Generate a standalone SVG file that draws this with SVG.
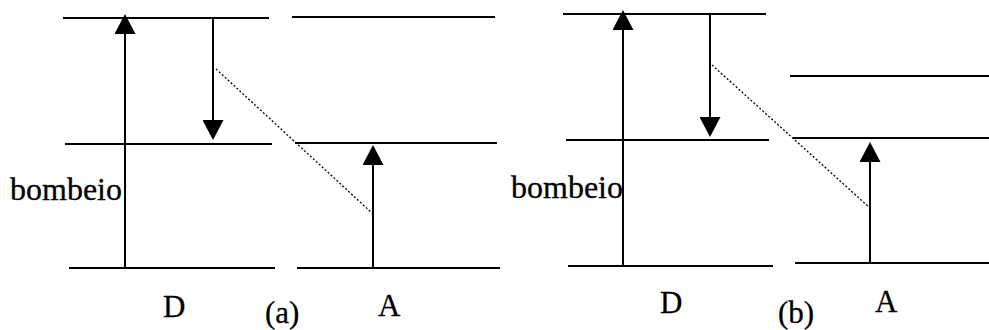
<svg xmlns="http://www.w3.org/2000/svg" width="989" height="330" viewBox="0 0 989 330">
<style>
.lvl{stroke:#000;stroke-width:2;fill:none}
.arr{stroke:#000;stroke-width:2;fill:none;marker-end:url(#ah)}
.dot{stroke:#000;stroke-width:1.3;fill:none;stroke-dasharray:2 2}
.t{font-family:"Liberation Serif","Times New Roman",serif;font-size:31px;fill:#000;stroke:#000;stroke-width:0.3}
.lb{font-size:32px}
</style>
<defs>
<marker id="ah" viewBox="0 0 20 21" refX="16" refY="10.5" markerWidth="20" markerHeight="21" markerUnits="userSpaceOnUse" orient="auto">
<path d="M0,0 L20,10.5 L0,21 z" fill="#000"/>
</marker>
</defs>
<rect width="989" height="330" fill="#fff"/>
<g id="panel-a">
<g id="a-donor-levels">
<line class="lvl" x1="63" y1="18" x2="269" y2="18"/>
<line class="lvl" x1="65" y1="144" x2="272" y2="144"/>
<line class="lvl" x1="69" y1="268" x2="275" y2="268"/>
</g>
<g id="a-acceptor-levels">
<line class="lvl" x1="292" y1="17" x2="495" y2="17"/>
<line class="lvl" x1="295" y1="143" x2="497" y2="143"/>
<line class="lvl" x1="297" y1="268" x2="500" y2="268"/>
</g>
<g id="a-labels">
<text class="t lb" x="10" y="200">bombeio</text>
<text class="t" x="163" y="317">D</text>
<text class="t" x="265" y="323">(a)</text>
<text class="t" x="378" y="316">A</text>
</g>
</g>
<g id="panel-b">
<g id="b-donor-levels">
<line class="lvl" x1="563" y1="14" x2="766" y2="14"/>
<line class="lvl" x1="566" y1="140" x2="769" y2="140"/>
<line class="lvl" x1="568" y1="266" x2="773" y2="266"/>
</g>
<g id="b-acceptor-levels">
<line class="lvl" x1="790" y1="76" x2="989" y2="76"/>
<line class="lvl" x1="793" y1="138" x2="989" y2="138"/>
<line class="lvl" x1="795" y1="263" x2="989" y2="263"/>
</g>
<g id="b-labels">
<text class="t lb" x="511" y="198">bombeio</text>
<text class="t" x="660" y="313">D</text>
<text class="t" x="778" y="323">(b)</text>
<text class="t" x="875" y="312">A</text>
</g>
</g>
<g id="connectors">
<line class="arr" x1="125" y1="268" x2="125" y2="18"/>
<line class="arr" x1="213" y1="18" x2="213" y2="136"/>
<line class="dot" x1="216" y1="69" x2="372" y2="213"/>
<line class="arr" x1="373" y1="268" x2="373" y2="149"/>
<line class="arr" x1="623" y1="266" x2="623" y2="14"/>
<line class="arr" x1="710" y1="14" x2="710" y2="133"/>
<line class="dot" x1="712" y1="65" x2="870" y2="208"/>
<line class="arr" x1="870" y1="263" x2="870" y2="146"/>
</g>
</svg>
